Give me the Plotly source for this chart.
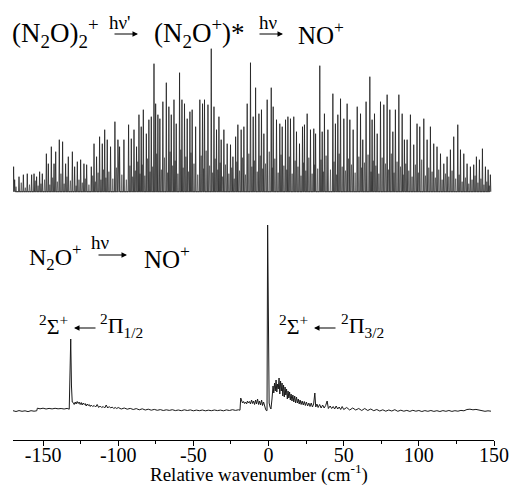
import plotly.graph_objects as go

# ---------------- data ----------------
# Upper spectrum: (N2O)2+ -> (N2O+)* -> NO+ ; strong lines (position cm-1, height arb.)
top_pos = [-169.6, -168.9, -166.0, -163.1, -160.5, -157.6, -156.0, -154.3, -152.3, -150.5,
           -147.8, -146.5, -144.5, -142.7, -141.6, -139.2, -137.0, -135.0, -133.2, -130.5,
           -129.0, -127.2, -125.0, -122.8, -121.0, -117.9, -116.1, -114.4, -112.4, -110.6,
           -109.0, -107.3, -105.1, -102.2, -100.2, -99.1, -96.2, -93.1, -91.3, -89.5,
           -87.8, -86.2, -84.7, -83.3, -81.3, -79.6, -78.0, -76.2, -75.1, -73.6,
           -72.3, -70.3, -68.0, -66.3, -64.7, -62.9, -61.4, -59.2, -57.6, -55.9,
           -54.1, -52.3, -50.8, -48.5, -45.7, -43.9, -42.6, -40.3, -38.1, -36.3,
           -34.6, -33.0, -31.5, -29.7, -27.5, -25.3, -23.7, -21.9, -20.4, -18.2,
           -16.4, -14.2, -12.0, -10.2, -8.6, -6.4, -4.7, -3.1, -0.9, 1.8,
           3.1, 5.3, 7.5, 9.1, 11.3, 12.9, 14.6, 16.8, 18.6, 20.6,
           22.6, 23.9, 25.7, 27.9, 30.1, 31.3, 34.1, 35.7, 37.2, 39.5,
           42.8, 44.5, 46.1, 47.9, 50.1, 52.3, 54.1, 56.3, 59.0, 61.2,
           62.7, 64.9, 67.4, 68.9, 70.5, 72.3, 74.5, 76.7, 78.9, 80.7,
           82.7, 84.4, 86.7, 88.9, 90.4, 92.2, 94.4, 96.6, 98.8, 100.6,
           103.3, 105.5, 107.7, 109.9, 112.1, 114.4, 116.6, 118.8, 121.0, 123.2,
           125.9, 127.7, 129.9, 132.1, 134.3, 136.5, 138.3, 140.3, 142.3, 144.3,
           146.1, 147.6]
top_int = [25, 12, 15, 17, 18, 17, 18, 15, 20, 18,
           38, 28, 45, 28, 40, 52, 50, 28, 35, 40,
           25, 30, 32, 28, 27, 25, 48, 35, 55, 48,
           62, 52, 45, 70, 52, 45, 52, 67, 53, 62,
           45, 77, 65, 82, 58, 72, 75, 128, 88, 77,
           73, 90, 109, 85, 77, 92, 68, 119, 92, 88,
           73, 80, 82, 65, 92, 88, 92, 87, 143, 85,
           62, 75, 52, 62, 48, 47, 35, 55, 67, 62,
           65, 88, 129, 75, 104, 78, 82, 58, 92, 104,
           85, 72, 68, 65, 72, 75, 73, 75, 60, 48,
           65, 67, 78, 62, 63, 58, 126, 60, 78, 62,
           98, 68, 77, 93, 73, 88, 72, 62, 85, 78,
           52, 90, 115, 72, 78, 58, 90, 87, 97, 82,
           60, 82, 97, 78, 52, 52, 77, 47, 68, 65,
           73, 52, 65, 48, 45, 38, 28, 35, 42, 55,
           67, 42, 38, 28, 25, 27, 35, 32, 43, 25,
           22, 17]
# weaker lines of the same band
weak_pos = [-168.0, -164.5, -161.8, -159.0, -155.2, -153.3, -151.4, -149.0, -145.5, -143.6,
            -140.5, -138.1, -136.0, -134.1, -131.8, -128.0, -126.1, -123.9, -121.9, -119.5,
            -117.0, -115.2, -113.4, -111.5, -109.8, -108.2, -106.2, -103.6, -101.2, -97.6,
            -94.6, -92.2, -90.4, -88.6, -87.0, -85.5, -84.0, -82.3, -80.5, -78.8,
            -77.1, -74.4, -71.3, -69.2, -67.1, -65.5, -63.8, -62.1, -60.3, -58.4,
            -56.8, -55.0, -53.2, -51.6, -49.6, -47.1, -44.8, -43.2, -41.5, -39.2,
            -37.2, -35.5, -33.8, -32.2, -30.6, -28.6, -26.4, -24.5, -22.8, -21.1,
            -19.3, -17.3, -15.3, -13.1, -11.1, -9.4, -7.5, -5.5, -3.9, -2.0,
            0.5, 2.5, 4.2, 6.4, 8.3, 10.2, 12.1, 13.8, 15.7, 17.7,
            19.6, 21.6, 23.3, 24.8, 26.8, 29.0, 30.7, 32.7, 34.9, 36.5,
            38.3, 41.2, 43.6, 45.3, 47.0, 49.0, 51.2, 53.2, 55.2, 57.6,
            60.1, 61.9, 63.8, 66.2, 68.2, 69.7, 71.4, 73.4, 75.6, 77.8,
            79.8, 81.7, 83.5, 85.5, 87.8, 89.6, 91.3, 93.3, 95.5, 97.7,
            99.7, 101.9, 104.4, 106.6, 108.8, 111.0, 113.2, 115.5, 117.7, 119.9,
            122.1, 124.5, 126.8, 128.8, 131.0, 133.2, 135.4, 137.4, 139.3, 141.3,
            143.3, 145.2, 146.9]
weak_int = [5, 9, 4, 7, 11, 6, 8, 12, 7, 14,
            10, 18, 8, 15, 11, 6, 12, 9, 13, 7,
            16, 10, 19, 12, 22, 14, 20, 13, 24, 17,
            12, 26, 15, 21, 30, 18, 27, 16, 33, 20,
            25, 38, 22, 34, 19, 40, 26, 31, 18, 42,
            24, 35, 20, 39, 28, 17, 36, 23, 41, 26,
            19, 33, 22, 29, 15, 27, 18, 24, 13, 30,
            21, 34, 17, 38, 25, 31, 20, 36, 23, 28,
            40, 24, 33, 19, 37, 26, 22, 35, 18, 31,
            25, 16, 29, 21, 34, 18, 27, 23, 32, 20,
            36, 22, 30, 17, 38, 25, 21, 33, 27, 19,
            35, 24, 29, 37, 20, 31, 26, 18, 34, 28,
            22, 38, 19, 30, 25, 17, 28, 21, 15, 27,
            19, 32, 16, 24, 20, 14, 22, 12, 18, 15,
            21, 13, 17, 10, 14, 8, 12, 16, 9, 13,
            7, 10, 6]

# Lower spectrum: N2O+ -> NO+ (wavenumber cm-1, intensity arb.)
low_w = [-170, -168, -166, -164, -162, -160, -158, -156, -154.2,
         -153.8, -152, -150, -148, -146, -144, -142, -140, -138, -136, -134, -132.6,
         -132.0, -131.6, -131.1, -130.6,
         -130, -129.3, -128.6, -128, -127.3, -126.6, -126, -125.3, -124.6, -124,
         -123.3, -122.6, -122, -121.3, -120.6, -120, -119.3, -118.6, -118, -117,
         -116, -115, -114, -113, -112, -111, -110, -109, -108, -107,
         -106, -105, -104, -103, -102, -101, -100, -98, -96, -94,
         -92, -90, -88, -86, -84, -82, -80, -78, -76, -74,
         -72, -70, -68, -66, -64, -62, -60, -58, -56, -54,
         -52, -50, -48, -46, -44, -42, -40, -38, -36, -34,
         -32, -30, -28, -26, -24, -22, -20, -19,
         -18.5, -18, -17.3, -16.6, -16, -15.3, -14.6, -14, -13.3, -12.6,
         -12, -11.3, -10.6, -10, -9.3, -8.6, -8, -7.3, -6.6, -6,
         -5.3, -4.6, -4, -3.3, -2.6, -2, -1.5, -1.0,
         -0.6, -0.1, 0.4, 1.0, 1.6,
         2.3, 3, 3.5, 4, 4.5, 5, 5.5, 6, 6.5, 7,
         7.5, 8, 8.5, 9, 9.5, 10, 10.5, 11, 11.5, 12,
         12.5, 13, 13.5, 14, 14.5, 15, 15.6, 16.2, 16.8, 17.4,
         18, 18.6, 19.2, 19.8, 20.4, 21, 21.7, 22.4, 23.1, 23.8,
         24.5, 25.2, 26, 26.8, 27.6, 28.4, 29.2, 30, 30.8, 31.4,
         32.2, 33, 34, 35, 36, 37, 38, 39, 39.8, 41,
         42, 43, 44, 45, 46, 47, 48, 49, 50, 52,
         54, 56, 58, 60, 62, 64, 66, 68, 70, 72,
         74, 76, 78, 80, 82, 84, 86, 88, 90, 92,
         94, 96, 98, 100, 102, 104, 106, 108, 110, 112,
         114, 116, 118, 120, 122, 124, 126, 128, 130, 132,
         134, 136, 138, 140, 142, 144, 146, 148]
low_i = [0.3, -0.5, 0.4, -0.3, 0.2, -0.6, 0.3, -0.2, 0.2,
         2.8, 2.2, 2.8, 2.0, 2.6, 2.1, 2.7, 2.2, 2.5, 2.0, 2.6, 1.8,
         30, 72, 25, 9,
         8.5, 6.5, 9, 7, 9.5, 7.5, 9, 6.5, 8.5, 6,
         8, 6.5, 7.5, 5, 7, 5.5, 6.5, 4.5, 6, 4.5,
         5.5, 4, 6.5, 3.5, 5, 3.5, 4.5, 3, 6, 3,
         4.5, 3, 4, 2.5, 3.5, 2.5, 3.5, 2, 3, 1.8,
         2.6, 1.5, 2.4, 1.2, 2.2, 1.0, 1.8, 0.8, 1.6, 0.7,
         1.4, 0.5, 1.2, 0.6, 1.3, 0.4, 1.0, 0.3, 1.2, 0.5,
         1.1, 0.2, 0.9, 0.3, 1.0, 0.2, 0.8, 0.3, 1.0, 0.4,
         0.9, 0.2, 1.1, 0.5, 1.3, 0.6, 1.2, 0.8,
         13, 10, 8, 9.5, 7.5, 9, 7, 10, 8, 9.5,
         7, 11, 7.5, 10, 6.5, 11, 7, 12, 6.5, 10,
         6, 11, 5.5, 9, 4, 2, 0.5, 0.3,
         186, 60, 8, 4, 2,
         12, 25, 18, 28, 20, 31, 19, 27, 22, 33,
         17, 30, 20, 28, 15, 26, 14, 24, 16, 22,
         12, 20, 13, 19, 11, 17, 10, 16, 9, 15,
         8, 14, 8, 12, 7, 11, 6.5, 10, 6, 9.5,
         5.5, 9, 5, 8, 4.5, 8, 4, 7, 18, 4,
         7, 3.5, 6.5, 3, 6, 3, 5.5, 10, 2.5, 5,
         2.5, 4.5, 2, 5, 2, 4, 1.5, 4.5, 1.5, 3.5,
         1, 3, 1, 2.5, 0.5, 2.5, 0.5, 2, 0.3, 1.5,
         0, 1.2, -0.2, 1, 0, 1.3, -0.3, 0.8, -0.2, 0.6,
         -0.4, 0.7, -0.2, 0.5, -0.5, 0.4, -0.3, 0.5, -0.4, 0.3,
         -0.5, 0.4, -0.3, 0.5, -0.4, 0.3, -0.2, 0.6, 0.2, 1.5,
         1.8, 1.2, 1.6, 1.0, 0.2, -0.3, 0.2, -0.2]

tick_vals = [-150, -100, -50, 0, 50, 100, 150]
tick_labels = ["-150", "-100", "-50", "0", "50", "100", "150"]
x_title = "Relative wavenumber (cm<sup>-1</sup>)"

# ---------------- stick spectra for the upper trace ----------------
half = 0.3


def sticks(pos, inten):
    xs, ys = [], []
    for p, h in sorted(zip(pos, inten)):
        xs += [p - half, p, p + half]
        ys += [0, h, 0]
    return xs, ys


wx, wy = sticks(weak_pos, weak_int)
sx, sy = sticks(top_pos, top_int)

FONT = "Liberation Serif"
fig = go.Figure()
fig.add_trace(go.Scatter(x=low_w, y=low_i, mode="lines",
                         line=dict(color="#1a1a1a", width=1), yaxis="y", hoverinfo="skip"))
fig.add_trace(go.Scatter(x=wx, y=wy, mode="lines",
                         line=dict(color="#555555", width=0.8), yaxis="y2", hoverinfo="skip"))
fig.add_trace(go.Scatter(x=sx, y=sy, mode="lines",
                         line=dict(color="#1e1e1e", width=0.8), yaxis="y2", hoverinfo="skip"))

# full-window figure; the page margin is removed by a small post script
W, H = 511, 501
L, R, T = 13, 17, 0
PH = 440                  # plot area ends on the axis line (y 440)
B = H - T - PH
PW = W - L - R


def xp(px):
    return (px - L) / PW


def yp(py):
    return (T + PH - py) / PH


ann = []


def text(s, x, y, size, xa="left"):
    ann.append(dict(text=s, x=xp(x), y=yp(y), xref="paper", yref="paper",
                    xanchor=xa, yanchor="middle", showarrow=False,
                    font=dict(family=FONT, size=size, color="black")))


def arrow(x0, x1, y):
    ann.append(dict(text="", x=xp(x1), y=yp(y), xref="paper", yref="paper",
                    ax=x0 - x1, ay=0, showarrow=True, arrowhead=2, arrowsize=1.0,
                    arrowwidth=1.1, arrowcolor="black", standoff=0, startstandoff=0))


# top formula
text("(N<sub>2</sub>O)<sub>2</sub><sup>+</sup>", 10, 33, 27)
arrow(113, 138, 34)
text("hν'", 107, 23, 19)
text("(N<sub>2</sub>O<sup>+</sup>)*", 152, 33, 27)
arrow(258, 283, 34)
text("hν", 257, 23, 19)
text("NO<sup>+</sup>", 296, 33, 25)
# lower formula
text("N<sub>2</sub>O<sup>+</sup>", 27, 257, 24)
arrow(97, 127, 255)
text("hν", 89, 242, 19)
text("NO<sup>+</sup>", 142, 257, 25)
# band labels
text("<sup>2</sup>Σ<sup>+</sup>", 37, 325, 22)
arrow(97, 74, 328)
text("<sup>2</sup>Π<sub>1/2</sub>", 98, 325, 22)
text("<sup>2</sup>Σ<sup>+</sup>", 277, 325, 22)
arrow(337, 314, 328)
text("<sup>2</sup>Π<sub>3/2</sub>", 339, 325, 22)
# axis title
text(x_title, 259, 473, 19, xa="center")

fig.update_layout(
    width=W, height=H, margin=dict(l=L, r=R, t=T, b=B, autoexpand=False),
    paper_bgcolor="white", plot_bgcolor="white", showlegend=False,
    annotations=ann,
    xaxis=dict(range=[-170, 150], showline=True, linecolor="black", linewidth=1.2,
               ticks="outside", ticklen=5, tickwidth=1, tickcolor="black",
               tickvals=tick_vals, ticktext=tick_labels, showgrid=False, zeroline=False,
               tickfont=dict(family=FONT, size=20, color="black"),
               ticklabelstandoff=-8, ticklabeloverflow="allow",
               minor=dict(dtick=25, tick0=0, ticks="outside", ticklen=3, tickwidth=1,
                          tickcolor="black", showgrid=False)),
    yaxis=dict(range=[-29, 411], visible=False, fixedrange=True),
    yaxis2=dict(range=[-248.3, 191.7], visible=False, overlaying="y", fixedrange=True),
)

fig.write_html(
    "out.html",
    config={"displayModeBar": False},
    post_script="document.body.style.margin='0';document.body.style.overflow='hidden';",
)
